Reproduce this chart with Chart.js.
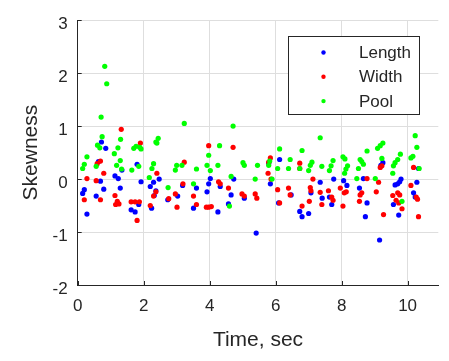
<!DOCTYPE html>
<html>
<head>
<meta charset="utf-8">
<script src="https://cdn.jsdelivr.net/npm/chart.js@4"></script>
<style>
  html, body { margin: 0; padding: 0; background: #fff; }
  #wrap { width: 449px; height: 361px; }
</style>
</head>
<body>
<div id="wrap"><canvas id="chart" width="449" height="361"></canvas></div>
<script>
// time (sec) and skewness
const lengthT = [0.15,0.2,0.28,0.56,0.63,0.69,0.72,0.79,0.85,1.13,1.23,1.29,1.34,1.62,1.74,1.8,1.85,1.92,2.2,2.24,2.3,2.32,2.37,2.47,2.73,3.03,3.18,3.51,3.6,3.92,3.97,4.02,4.25,4.32,4.57,4.65,4.73,5.05,5.41,5.79,5.84,6.09,6.12,6.47,6.73,6.8,7.0,7.07,7.35,7.41,7.63,7.7,7.76,8.06,8.16,8.54,8.66,8.72,8.77,9.15,9.19,9.25,9.57,9.62,9.7,9.73,9.76,9.8,10.18,10.23,10.28,10.33];
const lengthSkew = [-0.27,-0.2,-0.66,-0.32,0.33,-0.04,0.7,-0.19,0.58,0.06,0.01,-0.17,0.17,-0.58,-0.62,0.28,-0.48,-0.05,-0.14,-0.55,-0.06,-0.31,-0.22,0.0,-0.39,-0.32,-0.12,-0.55,-0.17,-0.24,-0.09,0.01,-0.62,-0.14,-0.47,-0.3,0.0,-0.36,-1.02,0.3,-0.09,-0.45,0.37,-0.3,-0.61,-0.71,-0.65,-0.26,-0.06,-0.36,-0.34,-0.48,0.0,-0.03,-0.12,-0.17,0.01,-0.71,-0.45,-1.15,0.26,0.31,-0.48,-0.11,-0.09,-0.68,-0.05,0.0,-0.26,-0.34,-0.06,0.2];

const widthT = [0.2,0.28,0.56,0.59,0.69,0.69,0.79,1.13,1.15,1.2,1.25,1.32,1.62,1.74,1.8,1.87,1.9,2.2,2.3,2.37,2.4,2.76,2.96,3.01,3.19,3.23,3.51,3.6,3.9,3.97,3.97,4.05,4.27,4.32,4.57,4.71,4.98,5.05,5.38,5.43,5.77,5.79,5.84,5.86,6.06,6.12,6.39,6.44,6.73,6.73,6.8,7.02,7.05,7.07,7.13,7.35,7.4,7.6,7.7,7.74,7.96,8.04,8.08,8.14,8.54,8.56,8.61,8.77,9.05,9.12,9.17,9.22,9.27,9.55,9.65,9.7,9.73,9.76,9.83,10.1,10.18,10.26,10.3,10.33];
const widthSkew = [-0.39,0.01,-0.03,0.29,0.34,-0.39,0.11,-0.31,-0.48,-0.42,-0.47,0.94,-0.43,-0.43,-0.78,-0.43,0.68,-0.5,-0.32,-0.24,0.11,-0.37,-0.28,-0.53,-0.09,0.32,-0.32,-0.48,-0.53,-0.53,0.63,-0.52,-0.05,-0.09,-0.17,0.6,-0.28,-0.32,-0.28,-0.36,0.11,0.32,0.4,0.0,-0.2,-0.45,-0.17,-0.3,0.3,0.2,-0.51,-0.42,-0.16,-0.22,0.0,-0.25,-0.48,-0.22,-0.34,-0.4,-0.17,-0.51,-0.26,-0.24,-0.42,-0.3,-0.26,0.01,-0.24,-0.06,0.22,0.25,-0.67,-0.31,-0.4,-0.26,-0.45,-0.3,-0.56,-0.12,0.22,-0.34,-0.38,-0.71];

const poolT = [0.15,0.2,0.28,0.56,0.6,0.67,0.71,0.74,0.82,0.88,1.11,1.18,1.22,1.29,1.3,1.33,1.64,1.7,1.77,1.85,1.88,1.92,2.17,2.25,2.3,2.37,2.4,2.44,2.74,2.96,3.0,3.16,3.23,3.51,3.6,3.92,3.97,4.02,4.25,4.3,4.6,4.65,4.71,5.01,5.05,5.38,5.45,5.79,5.82,5.89,6.06,6.12,6.39,6.44,6.73,6.8,7.0,7.05,7.1,7.35,7.4,7.63,7.68,7.74,8.04,8.09,8.1,8.13,8.18,8.46,8.51,8.56,8.61,8.66,8.77,9.02,9.09,9.17,9.22,9.25,9.55,9.57,9.62,9.7,9.78,9.83,10.1,10.16,10.23,10.28,10.35];
const poolSkew = [0.2,0.28,0.42,0.24,0.64,0.59,1.17,0.8,2.13,1.8,0.48,0.26,0.59,0.35,0.75,0.19,0.17,0.58,0.62,0.24,0.6,0.57,0.03,0.2,0.29,0.7,0.68,0.77,-0.16,0.17,0.26,0.26,1.05,-0.09,0.19,0.26,0.45,0.16,0.26,0.63,-0.51,0.05,1.0,0.31,0.26,0.0,0.26,0.26,0.34,0.0,0.2,0.57,0.2,0.37,0.2,0.54,0.16,0.26,0.32,0.78,0.24,0.16,0.25,0.35,0.42,0.11,0.38,0.19,0.25,0.01,0.2,0.37,0.33,0.28,0.53,0.01,0.58,0.63,0.39,0.68,0.11,0.25,0.31,0.37,0.47,-0.42,0.4,0.43,0.82,0.6,0.2];

const seriesNames = ["Length", "Width", "Pool"];
const seriesColors = ["#0000ff", "#ff0000", "#00ff00"];

const xTitle = "Time, sec";
const yTitle = "Skewness";

const FONT = "'Liberation Sans', Arial, Helvetica, sans-serif";
const INK = "#262626";

const toPoints = (t, v) => t.map((x, i) => ({ x, y: v[i] }));

// MATLAB style ticks pointing into the plot
const innerTicks = {
  id: "innerTicks",
  afterDraw(chart) {
    const { ctx, scales: { x, y } } = chart;
    ctx.save();
    ctx.strokeStyle = INK;
    ctx.lineWidth = 1;
    ctx.beginPath();
    x.ticks.forEach(t => {
      const px = Math.round(x.getPixelForValue(t.value)) + 0.5;
      ctx.moveTo(px, y.bottom);
      ctx.lineTo(px, y.bottom - 4);
    });
    y.ticks.forEach(t => {
      const py = Math.round(y.getPixelForValue(t.value)) + 0.5;
      ctx.moveTo(x.left, py);
      ctx.lineTo(x.left + 4, py);
    });
    ctx.stroke();
    ctx.restore();
  }
};

// boxed legend inside the axes, upper right
const boxLegend = {
  id: "boxLegend",
  afterDraw(chart) {
    const { ctx } = chart;
    const bx = 288.5, by = 36.5, bw = 131, bh = 78;
    ctx.save();
    ctx.fillStyle = "#fff";
    ctx.fillRect(bx, by, bw, bh);
    ctx.strokeStyle = INK;
    ctx.lineWidth = 1;
    ctx.strokeRect(bx, by, bw, bh);
    ctx.font = `17px ${FONT}`;
    ctx.textBaseline = "middle";
    ctx.textAlign = "left";
    seriesNames.forEach((name, i) => {
      const ry = 52.5 + i * 24.3;
      ctx.fillStyle = seriesColors[i];
      ctx.beginPath();
      ctx.arc(323.5, ry, 2.2, 0, Math.PI * 2);
      ctx.fill();
      ctx.fillStyle = INK;
      ctx.fillText(name, 359, ry + 1);
    });
    ctx.restore();
  }
};

new Chart(document.getElementById("chart"), {
  type: "scatter",
  data: {
    datasets: [
      { label: seriesNames[0], data: toPoints(lengthT, lengthSkew), order: 2 },
      { label: seriesNames[1], data: toPoints(widthT, widthSkew), order: 1 },
      { label: seriesNames[2], data: toPoints(poolT, poolSkew), order: 0 }
    ].map((d, i) => Object.assign(d, {
      backgroundColor: seriesColors[i],
      borderWidth: 0,
      pointRadius: 2.6
    }))
  },
  options: {
    responsive: false,
    animation: false,
    devicePixelRatio: 1,
    layout: { padding: { left: 0, right: 10.7, top: 17, bottom: 0 } },
    plugins: {
      legend: { display: false },
      tooltip: { enabled: false }
    },
    scales: {
      x: {
        type: "linear",
        min: 0,
        max: 10.93,
        afterFit: (s) => { s.height = 76; },
        ticks: {
          stepSize: 2,
          includeBounds: false,
          color: INK,
          font: { family: FONT, size: 17 },
          padding: 11,
          maxRotation: 0
        },
        grid: { color: "#dedede", lineWidth: 1, drawTicks: false },
        border: { color: INK, width: 1 },
        title: {
          display: true,
          text: xTitle,
          color: INK,
          font: { family: FONT, size: 21 },
          padding: { top: 0, bottom: 8 }
        }
      },
      y: {
        type: "linear",
        min: -2,
        max: 3,
        afterFit: (s) => { s.width = 77.7; },
        ticks: {
          stepSize: 1,
          color: INK,
          font: { family: FONT, size: 17 },
          padding: 10,
          labelOffset: 4
        },
        grid: { color: "#dedede", lineWidth: 1, drawTicks: false },
        border: { color: INK, width: 1 },
        title: {
          display: true,
          text: yTitle,
          color: INK,
          font: { family: FONT, size: 21 },
          padding: { top: 19, bottom: 0 }
        }
      }
    }
  },
  plugins: [innerTicks, boxLegend]
});
</script>
</body>
</html>
